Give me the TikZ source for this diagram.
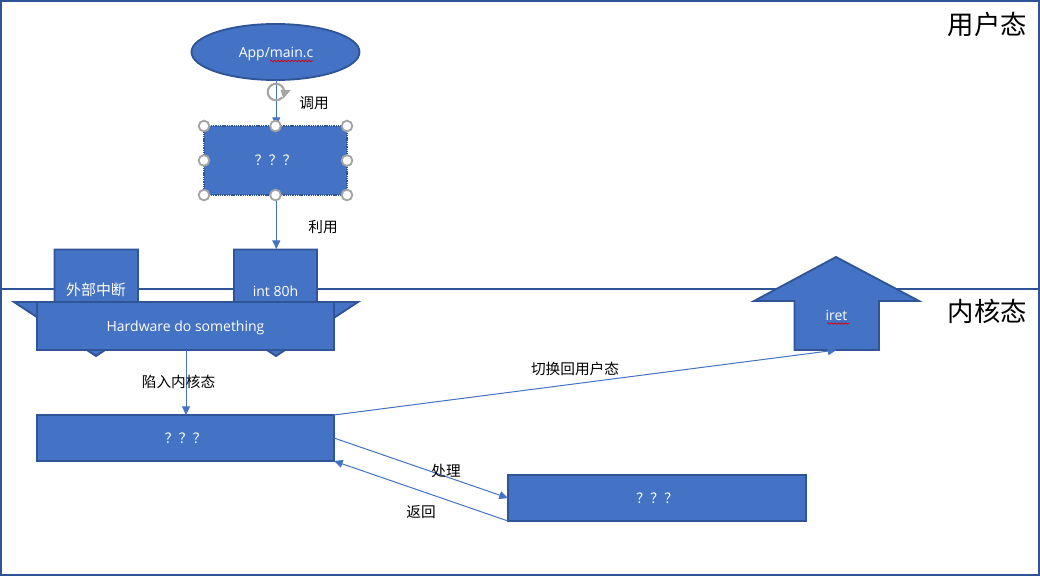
\documentclass[tikz,border=0pt]{standalone}
\usepackage{fontspec}
\setmainfont{Noto Sans CJK SC}
\newfontfamily\latinf{Open Sans}
\usetikzlibrary{arrows.meta,shapes.geometric,decorations.pathmorphing}
\definecolor{fillblue}{HTML}{4472C4}
\definecolor{edgeblue}{HTML}{2F5597}
\definecolor{handle}{HTML}{A5A5A5}
\def\px{0.75pt}
\tikzset{
  x=0.75pt,y=-0.75pt,
  frameline/.style={draw=edgeblue,line width=1.1pt},
  shapeb/.style={fill=fillblue,draw=edgeblue,line width=1.4pt,line join=miter},
  boxb/.style={shapeb,rectangle,inner sep=0pt,outer sep=0pt,text=white,font=\fontsize{10.5pt}{12pt}\selectfont},
  areab/.style={rectangle,inner sep=0pt,outer sep=0pt},
  wlabel/.style={inner sep=0pt,text=white,font=\fontsize{10.5pt}{12pt}\selectfont},
  wcjk/.style={inner sep=0pt,text=white,font=\fontsize{11.2pt}{13pt}\selectfont},
  blabel/.style={inner sep=0pt,text=black,font=\fontsize{11pt}{13pt}\selectfont},
  biglabel/.style={inner sep=0pt,text=black,font=\fontsize{19.8pt}{24pt}\selectfont},
  conn/.style={draw=fillblue,line width=0.75pt,-{Triangle[length=6.5pt,width=6pt]}},
  handleb/.style={circle,draw=handle,fill=white,line width=1.4pt,inner sep=0pt,minimum size=8pt},
  squig/.style={draw=red!85!black,line width=0.5pt,decorate,decoration={snake,amplitude=0.6pt,segment length=2.6pt}}
}
\begin{document}
\begin{tikzpicture}
\useasboundingbox (0,0) rectangle (1040,576);
% frame and divider
\node[areab,minimum width=1038*\px,minimum height=574*\px,frameline] (frame) at (520,288) {};
\coordinate (divl) at (frame.west |- 0,289);
\coordinate (divr) at (frame.east |- 0,289);
\draw[frameline] (divl) -- (divr);
\node[biglabel] (user) at (987.5,24) {用户态};
\node[biglabel] (kernel) at (987.5,311) {内核态};

% top ellipse
\node[ellipse,shapeb,inner sep=0pt,outer sep=0pt,minimum width=168*\px,minimum height=56*\px] (app) at (275.5,52) {};
\node[wlabel] (apptext) at (276,54.5) {\latinf App/main.c};
\draw[squig] (270,61) -- (313,61);

% down arrows
\draw[shapeb] (54.5,249.5) -- (138,249.5) -- (138,302) -- (178,302) -- (96,356) -- (14,302) -- (54.5,302) -- cycle;
\draw[shapeb] (234,249.5) -- (317,249.5) -- (317,302) -- (358,302) -- (276,356) -- (194,302) -- (234,302) -- cycle;
\node[areab,minimum width=83*\px,minimum height=53*\px] (intarea) at (275.5,275.5) {};
\node[wcjk] (wai) at (96,290) {外部中断};
\node[wlabel] (int) at (275.5,291.5) {\latinf int 80h};

% up arrow
\draw[shapeb] (836,257) -- (919,301) -- (879,301) -- (879,350) -- (794.5,350) -- (794.5,301) -- (754,301) -- cycle;
\node[areab,minimum width=85*\px,minimum height=49*\px] (iretarea) at (836.5,325.5) {};
\node[wlabel] (iret) at (836.5,315) {\latinf iret};
\draw[squig] (827,323.5) -- (849,323.5);

% selected rectangle and connectors under boxes
\node[boxb,minimum width=143*\px,minimum height=69*\px,dashed,dash pattern=on 1pt off 0.7pt] (q1) at (275.5,160.5) {？？？};
\draw[conn] ([xshift=0.6pt]app.south) -- ([xshift=0.6pt]q1.north);
\draw[conn] ([xshift=0.6pt]q1.south) -- ([xshift=0.6pt]intarea.north);

% boxes
\node[boxb,minimum width=297*\px,minimum height=48*\px] (hw) at (185.5,326) {};
\node[wlabel] (hwtext) at (185.5,327.5) {\latinf Hardware do something};
\node[boxb,minimum width=297*\px,minimum height=46*\px] (q2) at (185.5,438) {？？？};
\node[boxb,minimum width=298*\px,minimum height=46*\px] (q3) at (657,498) {？？？};

\draw[conn] ([xshift=0.4pt]hw.south) -- ([xshift=0.4pt]q2.north);
\draw[conn] (q2.north east) -- (iretarea.south);
\draw[conn] (q2.east) -- (q3.west);
\draw[conn] (q3.south west) -- (q2.south east);

% selection handles
\foreach \nm/\an in {h1/north west,h2/north,h3/north east,h4/west,h5/east,h6/south west,h7/south,h8/south east}{
  \node[handleb] (\nm) at (q1.\an) {};
}
% rotation handle
\coordinate (rot) at (276,92);
\begin{scope}[shift={(rot)},x=1pt,y=1pt]
\draw[handle,line width=1.6pt] (-40:6.2) arc[start angle=-40,end angle=-350,radius=6.2];
\fill[handle] (3.5,1.6) -- (11,1.4) -- (5.5,-5) -- cycle;
\end{scope}

% labels
\node[blabel] (call) at (314,103) {调用};
\node[blabel] (use) at (323,227) {利用};
\node[blabel] (trap) at (178.5,382) {陷入内核态};
\node[blabel] (back) at (575,369) {切换回用户态};
\node[blabel] (proc) at (446,471) {处理};
\node[blabel] (ret) at (421,512) {返回};
\end{tikzpicture}
\end{document}
